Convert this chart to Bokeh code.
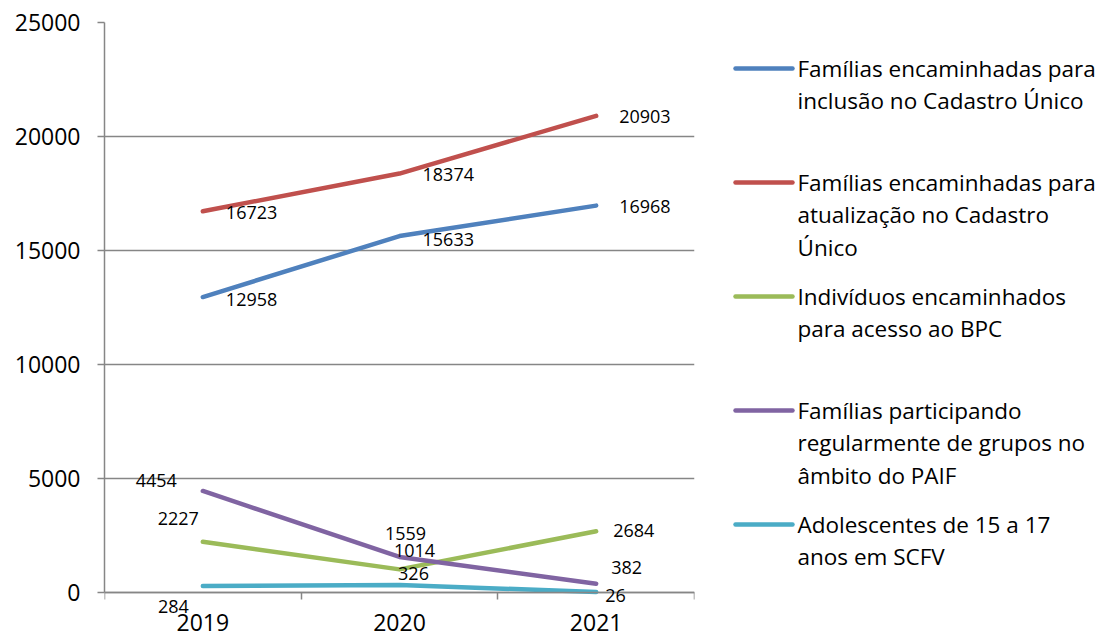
from bokeh.plotting import figure
from bokeh.layouts import row
from bokeh.models import Range1d, FixedTicker, Label
from bokeh.core.properties import value
from bokeh.embed import file_html
from bokeh.resources import INLINE

# ---- data -----------------------------------------------------------------
years = ["2019", "2020", "2021"]

inclusao_cadunico = [12958, 15633, 16968]
atualizacao_cadunico = [16723, 18374, 20903]
acesso_bpc = [2227, 1014, 2684]
grupos_paif = [4454, 1559, 382]
adolescentes_scfv = [284, 326, 26]

y_ticks = [0, 5000, 10000, 15000, 20000, 25000]

legend_lines = [
    ["Famílias encaminhadas para", "inclusão no Cadastro Único"],
    ["Famílias encaminhadas para", "atualização no Cadastro", "Único"],
    ["Indivíduos encaminhados", "para acesso ao BPC"],
    ["Famílias participando", "regularmente de grupos no", "âmbito do PAIF"],
    ["Adolescentes de 15 a 17", "anos em SCFV"],
]

series = [inclusao_cadunico, atualizacao_cadunico, acesso_bpc, grupos_paif, adolescentes_scfv]
colors = ["#4F81BD", "#C0504D", "#9BBB59", "#8064A2", "#4BACC6"]

# label placement per series / year: (align, dx px, dy px downward)
label_place = [
    [("left", 23, 2), ("left", 23, 3), ("left", 23, 1)],
    [("left", 23, 1), ("left", 23, 1), ("left", 23, 1)],
    [("right", -4, -23), ("center", 15, -19), ("left", 17, -1)],
    [("right", -26, -10), ("center", 6, -23), ("left", 15, -16)],
    [("right", -14, 20), ("center", 14, -12), ("left", 9, 4)],
]

GRID = "#868686"
FONT = "Open Sans"
HEIGHT = 638
TOP = 22            # frame top (value 25000)
ZERO_PX = 592       # screen row of the value 0
Y_MAX = 25000

# ---- chart ----------------------------------------------------------------
xs = [i + 0.5 for i in range(len(years))]

# the frame runs to the bottom edge so labels under the zero line stay visible
y_min = -(HEIGHT - ZERO_PX) / (ZERO_PX - TOP) * Y_MAX

p = figure(
    width=720, height=HEIGHT,
    x_range=Range1d(0, len(years)), y_range=Range1d(y_min, Y_MAX),
    output_backend="svg", toolbar_location=None, tools="",
    min_border_left=104, min_border_right=26, min_border_top=TOP, min_border_bottom=0,
)
p.outline_line_color = None
p.xgrid.visible = False
p.ygrid.ticker = FixedTicker(ticks=y_ticks)
p.ygrid.grid_line_color = GRID
p.ygrid.grid_line_width = 1.5

p.yaxis.ticker = FixedTicker(ticks=y_ticks)
p.yaxis.bounds = (0, Y_MAX)
p.yaxis.axis_line_color = GRID
p.yaxis.axis_line_width = 1.5
p.yaxis.major_tick_line_color = GRID
p.yaxis.major_tick_line_width = 1.5
p.yaxis.major_tick_out = 7
p.yaxis.major_tick_in = 0
p.yaxis.minor_tick_line_color = None
p.yaxis.major_label_standoff = 17
p.yaxis.major_label_text_font = FONT
p.yaxis.major_label_text_font_size = "23px"
p.yaxis.major_label_text_color = "#000000"

# x axis sits on the zero line; tick marks at category boundaries
p.xaxis.fixed_location = 0
p.xaxis.ticker = FixedTicker(ticks=xs, minor_ticks=list(range(len(years) + 1)))
p.xaxis.major_label_overrides = {x: "" for x in xs}
p.xaxis.major_label_text_font_size = "0px"
p.xaxis.major_label_standoff = 0
p.xaxis.axis_line_color = GRID
p.xaxis.axis_line_width = 1.5
p.xaxis.major_tick_line_color = None
p.xaxis.major_tick_out = 0
p.xaxis.major_tick_in = 0
p.xaxis.minor_tick_line_color = GRID
p.xaxis.minor_tick_line_width = 1.5
p.xaxis.minor_tick_out = 7
p.xaxis.minor_tick_in = 0

for x, yr in zip(xs, years):
    p.add_layout(Label(x=x, y=0, text=yr, y_offset=-30,
                       text_align="center", text_baseline="middle",
                       text_font=FONT, text_font_size="23px", text_color="#000000"))

for vals, color in zip(series, colors):
    p.line(xs, vals, line_color=color, line_width=4.5,
           line_cap="round", line_join="round")

# value labels
for vals, places in zip(series, label_place):
    for x, v, (align, dx, dy) in zip(xs, vals, places):
        p.add_layout(Label(x=x, y=v, text=str(v), x_offset=dx, y_offset=-dy,
                           text_align=align, text_baseline="middle",
                           text_font=FONT, text_font_size="18px", text_color="#000000"))

# ---- legend panel ---------------------------------------------------------
leg = figure(
    width=382, height=HEIGHT,
    x_range=Range1d(0, 382), y_range=Range1d(HEIGHT, TOP),
    output_backend="svg", toolbar_location=None, tools="",
    min_border_left=0, min_border_right=0, min_border_top=TOP, min_border_bottom=0,
)
leg.axis.visible = False
leg.grid.visible = False
leg.outline_line_color = None

entry_top = 68
entry_step = 114
line_step = 32.4
for i, (lines, color) in enumerate(zip(legend_lines, colors)):
    yy = entry_top + i * entry_step
    leg.line([15, 72], [yy, yy], line_color=color, line_width=4.5, line_cap="round")
    leg.text(x=[77] * len(lines), y=[yy + j * line_step for j in range(len(lines))],
             text=lines, text_align="left", text_baseline="middle",
             text_font=value(FONT), text_font_size="22.5px", text_color="#000000")

layout = row(p, leg)

with open("out.html", "w") as f:
    f.write(file_html(layout, INLINE))
